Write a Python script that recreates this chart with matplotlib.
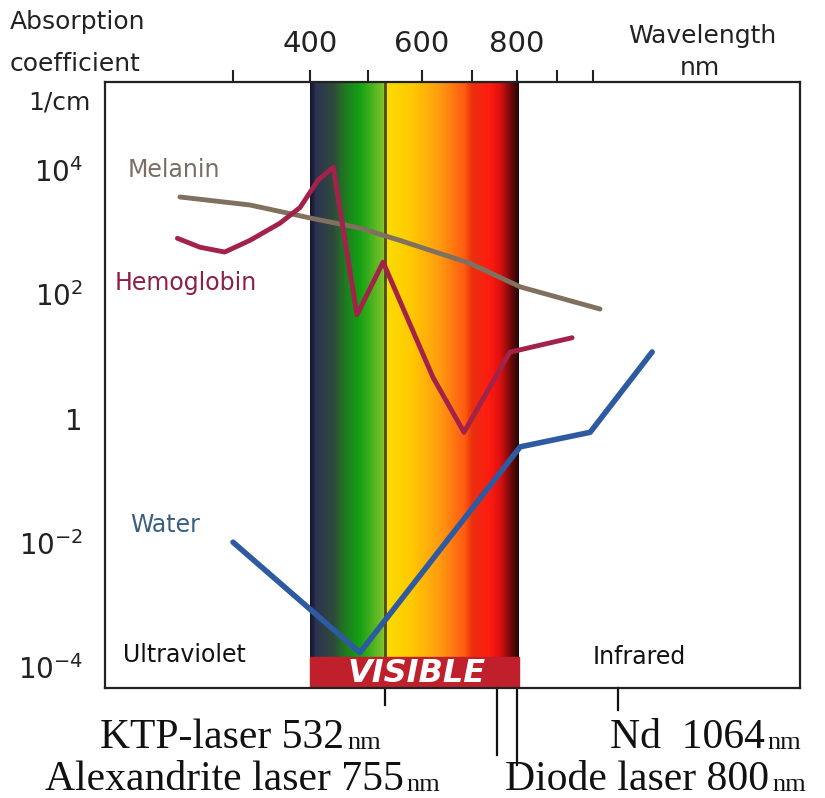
import numpy as np
import matplotlib
matplotlib.use('Agg')
import matplotlib.pyplot as plt
from matplotlib.colors import LinearSegmentedColormap

# absorption curves (wavelength nm, absorption coefficient 1/cm)
melanin_wl = [236, 322, 400, 486, 559, 696, 808, 1018]
melanin_abs = [3700, 2750, 1700, 1170, 740, 316, 132, 58]

hemo_wl = [233, 260, 290, 322, 361, 387, 414, 440, 481, 528, 622, 684, 784, 942]
hemo_abs = [800, 575, 480, 740, 1400, 2500, 6900, 11200, 47, 330, 4.6, 0.60, 11.7, 20]

water_wl = [300, 486, 808, 992, 1156]
water_abs = [0.0102, 1.7e-4, 0.35, 0.60, 11.8]

# top axis ticks
wl_ticks = [300, 400, 500, 600, 700, 800, 900, 1000]
wl_ticklabels = ['', '400', '', '600', '', '800', '', '']
y_ticks = [1e-4, 1e-2, 1, 1e2, 1e4]
y_ticklabels = ['$10^{-4}$', '$10^{-2}$', '1', '$10^{2}$', '$10^{4}$']

# lasers (nm)
ktp_nm, alex_nm, diode_nm, nd_nm = 532, 755, 800, 1064

# the wavelength axis in the picture is not linear -> piecewise scale
KN_WL = [150, 200, 300, 400, 500, 600, 700, 800, 900, 1000, 1100, 1200, 1400, 1600]
KN_PX = [105, 150, 233, 310, 368, 422, 472, 517, 557, 593, 632, 668, 735, 800]


def fwd(w):
    return np.interp(w, KN_WL, KN_PX)


def inv(p):
    return np.interp(p, KN_PX, KN_WL)


W, H = 825, 798


def fpos(x, y):
    # pixel position in the picture -> figure fraction
    return x / W, 1 - y / H


fig = plt.figure(figsize=(W / 100, H / 100), dpi=100)
ax = fig.add_axes([105 / W, 1 - 688 / H, 695 / W, 606 / H])
ax.set_xscale('function', functions=(fwd, inv))
ax.set_yscale('log')
ax.set_xlim(150, 1600)
ylo, yhi = 10 ** -4.34, 10 ** 5.42
ax.set_ylim(ylo, yhi)

# visible spectrum band
spec = [(400, '#15152e'), (410, '#2c3350'), (440, '#2e4a3a'), (460, '#1f7a20'),
        (485, '#12a012'), (528, '#7cc22a'), (534, '#f8dc00'), (580, '#ffc800'),
        (636, '#ff9a10'), (686, '#ff5a10'), (700, '#e8300e'), (740, '#ff1a10'),
        (765, '#d81010'), (790, '#600808'), (805, '#200505')]
cmap = LinearSegmentedColormap.from_list(
    'spec', [((w - 400) / 405, c) for w, c in spec])
xe = np.linspace(400, 805, 400)
xc = (xe[:-1] + xe[1:]) / 2
ax.pcolormesh(xe, [ylo, yhi], xc[None, :], cmap=cmap, vmin=400, vmax=805,
              shading='flat', zorder=0)
ax.axvline(ktp_nm, color='#4a4a12', lw=2, zorder=0.5)
ax.axvspan(400, 805, ymin=0, ymax=31 / 606, color='#c0202c', zorder=1)
fig.text(*fpos(417, 674), 'VISIBLE', ha='center', va='center', color='white',
         fontsize=23, fontweight='bold', fontstyle='italic', zorder=5)

ax.plot(melanin_wl, melanin_abs, color='#80705e', lw=3.5, zorder=2,
        solid_capstyle='round')
ax.plot(hemo_wl, hemo_abs, color='#a3224a', lw=3.5, zorder=2,
        solid_capstyle='round', solid_joinstyle='round')
ax.plot(water_wl, water_abs, color='#2d5aa0', lw=4, zorder=2,
        solid_capstyle='round')

# ticks
ax.xaxis.tick_top()
ax.set_xticks(wl_ticks)
ax.set_xticklabels(wl_ticklabels)
ax.xaxis.set_minor_locator(plt.NullLocator())
ax.tick_params(axis='x', top=True, bottom=False, direction='out', length=9,
               width=1.5, pad=8, labelsize=21, colors='#222222')
ax.set_yticks(y_ticks)
ax.set_yticklabels(y_ticklabels)
ax.yaxis.set_minor_locator(plt.NullLocator())
ax.tick_params(axis='y', length=0, pad=16, labelsize=20, labelcolor='#222222')
for s in ax.spines.values():
    s.set_linewidth(1.6)
    s.set_color('#222222')

# curve and region labels
fig.text(*fpos(128, 170), 'Melanin', ha='left', va='center', fontsize=17,
         color='#7a6e62')
fig.text(*fpos(115, 283), 'Hemoglobin', ha='left', va='center', fontsize=17,
         color='#8c2048')
fig.text(*fpos(130, 525), 'Water', ha='left', va='center', fontsize=17,
         color='#3a5f80')
fig.text(*fpos(123, 655), 'Ultraviolet', ha='left', va='center', fontsize=17,
         color='#111111')
fig.text(*fpos(593, 657), 'Infrared', ha='left', va='center', fontsize=17,
         color='#111111')

# axis titles
for x, y, s in [(10, 22, 'Absorption'), (10, 64, 'coefficient'), (28, 103, '1/cm'),
                (628, 36, 'Wavelength')]:
    fig.text(*fpos(x, y), s, ha='left', va='center', fontsize=18, color='#222222')
fig.text(*fpos(700, 68), 'nm', ha='center', va='center', fontsize=18,
         color='#222222')

# laser markers below the axis
tr = ax.get_xaxis_transform()
for nm, drop in [(ktp_nm, 17), (alex_nm, 67), (diode_nm, 77), (nd_nm, 22)]:
    ax.plot([nm, nm], [0, -drop / 606], transform=tr, color='#111111', lw=1.6,
            clip_on=False)

serif = 'Liberation Serif'
big, small = 30, 19
for x, y, s in [(100, 748, 'KTP-laser 532'), (610, 748, 'Nd  1064'),
                (45, 790, 'Alexandrite laser 755'), (505, 790, 'Diode laser 800')]:
    t = fig.text(*fpos(x, y), s, family=serif, fontsize=big, va='baseline',
                 color='#111111')
    # small "nm" right after the number
    fig.add_artist(plt.Annotation('nm', xy=(1, 0), xycoords=t,
                                  xytext=(3, 3), textcoords='offset pixels',
                                  family=serif, fontsize=small, va='bottom',
                                  ha='left', color='#111111'))

fig.savefig('out.png', dpi=100)
